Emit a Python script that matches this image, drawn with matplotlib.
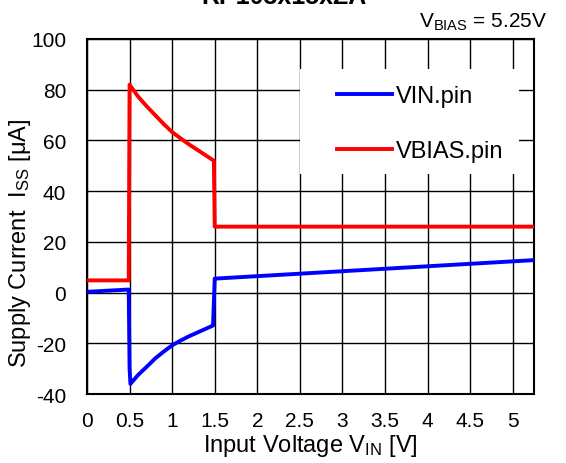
import matplotlib.pyplot as plt
from matplotlib.patches import Rectangle

plt.rcParams.update({
    'font.family': 'Liberation Sans',
    'font.size': 15,
    'axes.unicode_minus': False,
    'mathtext.fontset': 'custom',
    'mathtext.rm': 'Liberation Sans',
    'mathtext.it': 'Liberation Sans',
})

# data
vin_x = [0, 0.49, 0.5, 0.51, 0.6, 0.7, 0.8, 0.9, 1.0, 1.1, 1.2, 1.3, 1.4, 1.48, 1.5, 5.25]
vin_y = [0.3, 1.2, -30, -36, -32.5, -29.3, -26, -23.3, -20.8, -18.9, -17.2, -15.7, -14.2, -13, 5.5, 12.8]

vbias_x = [0, 0.49, 0.5, 0.6, 0.7, 0.8, 0.9, 1.0, 1.1, 1.2, 1.3, 1.4, 1.49, 1.5, 5.25]
vbias_y = [4.8, 4.8, 82, 77.3, 73.5, 70, 66.5, 63.3, 60.8, 58.4, 56.2, 54, 52, 26, 26]

xticks = [0, 0.5, 1, 1.5, 2, 2.5, 3, 3.5, 4, 4.5, 5]
xticklabels = ['0', '0.5', '1', '1.5', '2', '2.5', '3', '3.5', '4', '4.5', '5']
yticks = [-40, -20, 0, 20, 40, 60, 80, 100]

fig = plt.figure(figsize=(5.66, 4.64), dpi=100)
ax = fig.add_axes([0.1537, 0.1487, 0.7898, 0.7651])

ax.plot(vin_x, vin_y, color='#0000ff', lw=2.8, label='VIN.pin', zorder=3)
ax.plot(vbias_x, vbias_y, color='#ff0000', lw=2.8, label='VBIAS.pin', zorder=3)

ax.set_xlim(0, 5.25)
ax.set_ylim(-40, 100)
ax.set_xticks(xticks)
ax.set_xticklabels(xticklabels)
ax.set_yticks(yticks)
ax.tick_params(axis='y', length=0, pad=15)
ax.tick_params(axis='x', length=0, pad=12)
ax.grid(True, color='black', lw=1.0)
for s in ax.spines.values():
    s.set_linewidth(1.5)

ax.set_xlabel(r'Input Voltage V$_{\mathrm{IN}}$ [V]', fontsize=17, labelpad=2)
ax.set_ylabel(r'Supply Current  I$_{\mathrm{SS}}$ [μA]', fontsize=17)
ax.yaxis.set_label_coords(-0.121, 0.428)

# white box behind the legend, hiding the grid
ax.add_patch(Rectangle((0.4765, 0.6197), 0.49, 0.2958, transform=ax.transAxes,
                       facecolor='white', edgecolor='none', zorder=4))
leg = ax.legend(loc='upper left', bbox_to_anchor=(0.559, 0.87), frameon=False,
                fontsize=17, handlelength=2.33, handletextpad=0.17,
                labelspacing=1.4, borderpad=0, borderaxespad=0)
leg.set_zorder(5)

fig.text(0.966, 0.94, r'V$_{\mathrm{BIAS}}$ = 5.25V', ha='right', va='baseline')
fig.text(0.502, 0.991, 'RP103x15xZA', ha='center', va='baseline',
         fontweight='bold', fontsize=18)

fig.savefig('out.png', dpi=100)
